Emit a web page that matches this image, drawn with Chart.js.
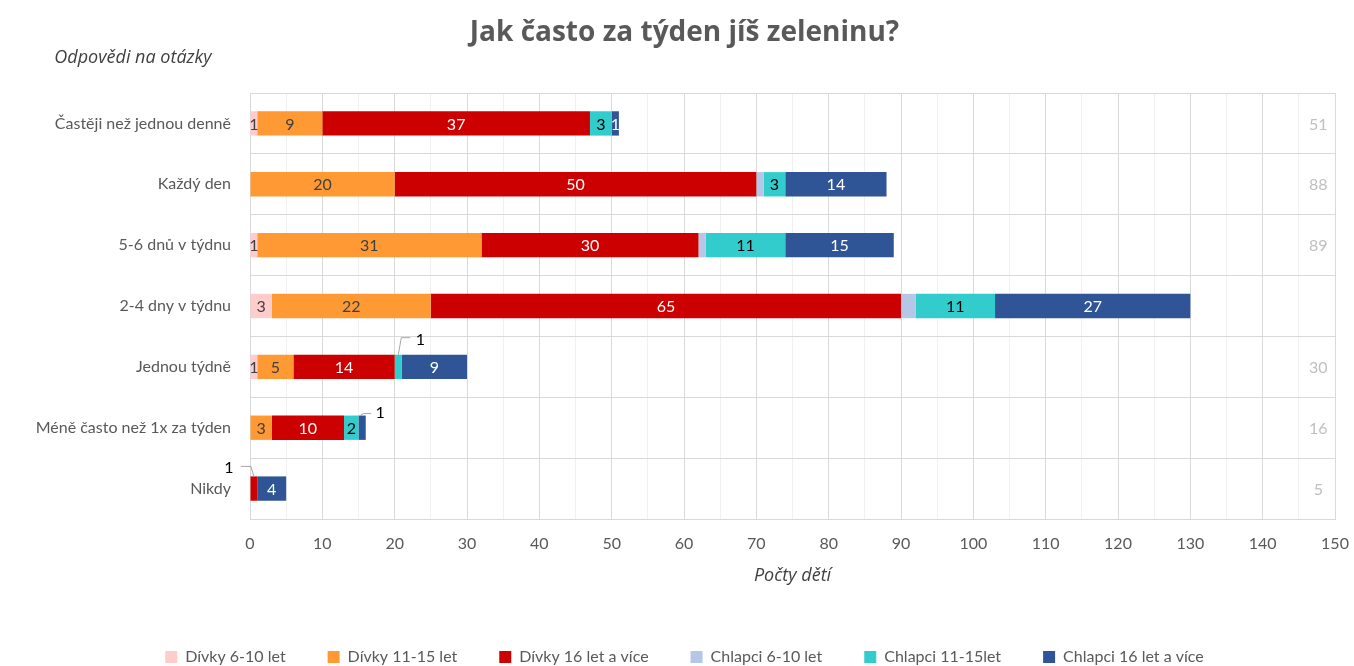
<!DOCTYPE html>
<html>
<head>
<meta charset="utf-8">
<script src="https://cdn.jsdelivr.net/npm/chart.js@4/dist/chart.umd.min.js"></script>
<style>
html, body { margin: 0; padding: 0; background: #fff; }
</style>
</head>
<body>
<canvas id="chart" width="1354" height="666"></canvas>
<script>
'use strict';

const categories = ['Častěji než jednou denně', 'Každý den', '5-6 dnů v týdnu', '2-4 dny v týdnu', 'Jednou týdně', 'Méně často než 1x za týden', 'Nikdy'];
const seriesNames = ['Dívky 6-10 let', 'Dívky 11-15 let', 'Dívky 16 let a více', 'Chlapci 6-10 let', 'Chlapci 11-15let', 'Chlapci 16 let a více'];
const divky610 = [1, 0, 1, 3, 1, 0, 0];
const divky1115 = [9, 20, 31, 22, 5, 3, 0];
const divky16 = [37, 50, 30, 65, 14, 10, 1];
const chlapci610 = [0, 1, 1, 2, 0, 0, 0];
const chlapci1115 = [3, 3, 11, 11, 1, 2, 0];
const chlapci16 = [1, 14, 15, 27, 9, 1, 4];
// součty vpravo (u 2-4 dny v grafu chybí)
const totals = [51, 88, 89, null, 30, 16, 5];

const FONT = 'Lato, "Open Sans", sans-serif';
const FONT2 = '"Open Sans", Lato, sans-serif';
const colors = ['#ffcccc', '#ff9933', '#cc0000', '#b4c7e7', '#33cccc', '#2f5597'];
const labelColors = ['#404040', '#404040', '#ffffff', null, '#000000', '#ffffff'];

// popisky s odkazovou čárou: [dataset, index, body čáry relativně k horní hraně sloupce, pozice textu]
const callouts = [
    { ds: 4, idx: 4, line: [[0, 0], [3, -17], [12, -17]], text: [22, -15] },
    { ds: 5, idx: 5, line: [[-2, 0], [1.5, -2], [9, -2]], text: [18, -3] },
    { ds: 2, idx: 6, line: [[0, 0], [-3, -10], [-13, -10]], text: [-25, -9] }
];

function isCallout(ds, idx) {
    return callouts.some(c => c.ds === ds && c.idx === idx);
}

const labelsPlugin = {
    id: 'barLabels',
    afterDatasetsDraw(chart) {
        const ctx = chart.ctx;
        const xs = chart.scales.x, ys = chart.scales.y;
        ctx.save();
        ctx.font = '16px ' + FONT;
        ctx.textAlign = 'center';
        ctx.textBaseline = 'middle';
        chart.data.datasets.forEach((ds, di) => {
            if (!labelColors[di]) return;
            chart.getDatasetMeta(di).data.forEach((bar, i) => {
                const v = ds.data[i];
                if (!v || isCallout(di, i)) return;
                ctx.fillStyle = labelColors[di];
                ctx.fillText(String(v), (bar.x + bar.base) / 2, bar.y + 1);
            });
        });

        // odkazové popisky
        callouts.forEach(c => {
            const bar = chart.getDatasetMeta(c.ds).data[c.idx];
            const cx = (bar.x + bar.base) / 2, top = bar.y - bar.height / 2;
            ctx.strokeStyle = '#a6a6a6';
            ctx.lineWidth = 1;
            ctx.beginPath();
            c.line.forEach((p, k) => {
                if (k === 0) ctx.moveTo(cx + p[0], top + p[1]);
                else ctx.lineTo(cx + p[0], top + p[1]);
            });
            ctx.stroke();
            ctx.fillStyle = '#000000';
            ctx.fillText(String(chart.data.datasets[c.ds].data[c.idx]), cx + c.text[0], top + c.text[1]);
        });

        // součty
        ctx.fillStyle = '#bfbfbf';
        totals.forEach((t, i) => {
            if (t === null) return;
            ctx.fillText(String(t), xs.getPixelForValue(147.7), ys.getPixelForValue(i) + 1);
        });

        // název osy kategorií
        ctx.font = 'italic 18px ' + FONT2;
        ctx.fillStyle = '#404040';
        ctx.fillText('Odpovědi na otázky', 133, 58);
        ctx.restore();
    }
};

const seriesData = [divky610, divky1115, divky16, chlapci610, chlapci1115, chlapci16];

new Chart(document.getElementById('chart'), {
    type: 'bar',
    data: {
        labels: categories,
        datasets: seriesData.map((d, i) => ({
            label: seriesNames[i],
            data: d,
            backgroundColor: colors[i],
            borderWidth: 0,
            barPercentage: 0.4,
            categoryPercentage: 1
        }))
    },
    options: {
        responsive: false,
        devicePixelRatio: 1,
        animation: false,
        indexAxis: 'y',
        layout: { padding: { left: 34, right: 19, top: 0, bottom: 0 } },
        plugins: {
            title: {
                display: true,
                text: 'Jak často za týden jíš zeleninu?',
                color: '#595959',
                font: { family: FONT2, size: 28, weight: 'bold' },
                padding: { top: 16, bottom: 43.4 }
            },
            legend: {
                position: 'bottom',
                maxHeight: 59,
                labels: {
                    color: '#595959',
                    font: { family: FONT, size: 16 },
                    boxWidth: 12,
                    boxHeight: 12,
                    padding: 42
                }
            },
            tooltip: { enabled: false }
        },
        scales: {
            x: {
                stacked: true,
                min: 0,
                max: 150,
                afterFit(scale) {
                    scale.height = 88;
                    scale.paddingLeft = 0;
                    scale.paddingRight = 0;
                },
                ticks: {
                    stepSize: 5,
                    autoSkip: false,
                    maxRotation: 0,
                    padding: 15,
                    color: '#595959',
                    font: { family: FONT, size: 16 },
                    callback: v => (v % 10 === 0 ? v : '')
                },
                grid: {
                    drawTicks: false,
                    color: ctx => (ctx.tick && ctx.tick.value % 10 === 0 ? '#d9d9d9' : '#f0f0f0')
                },
                border: { color: '#d9d9d9' },
                title: {
                    display: true,
                    text: 'Počty dětí',
                    color: '#404040',
                    font: { family: FONT2, size: 18, style: 'italic' },
                    padding: { top: 0, bottom: 20 }
                }
            },
            y: {
                stacked: true,
                afterFit(scale) { scale.width = 216; },
                ticks: {
                    padding: 19,
                    color: '#595959',
                    font: { family: FONT, size: 16 }
                },
                grid: { drawTicks: false, color: '#d9d9d9' },
                border: { color: '#d9d9d9' }
            }
        }
    },
    plugins: [labelsPlugin]
});
</script>
</body>
</html>
